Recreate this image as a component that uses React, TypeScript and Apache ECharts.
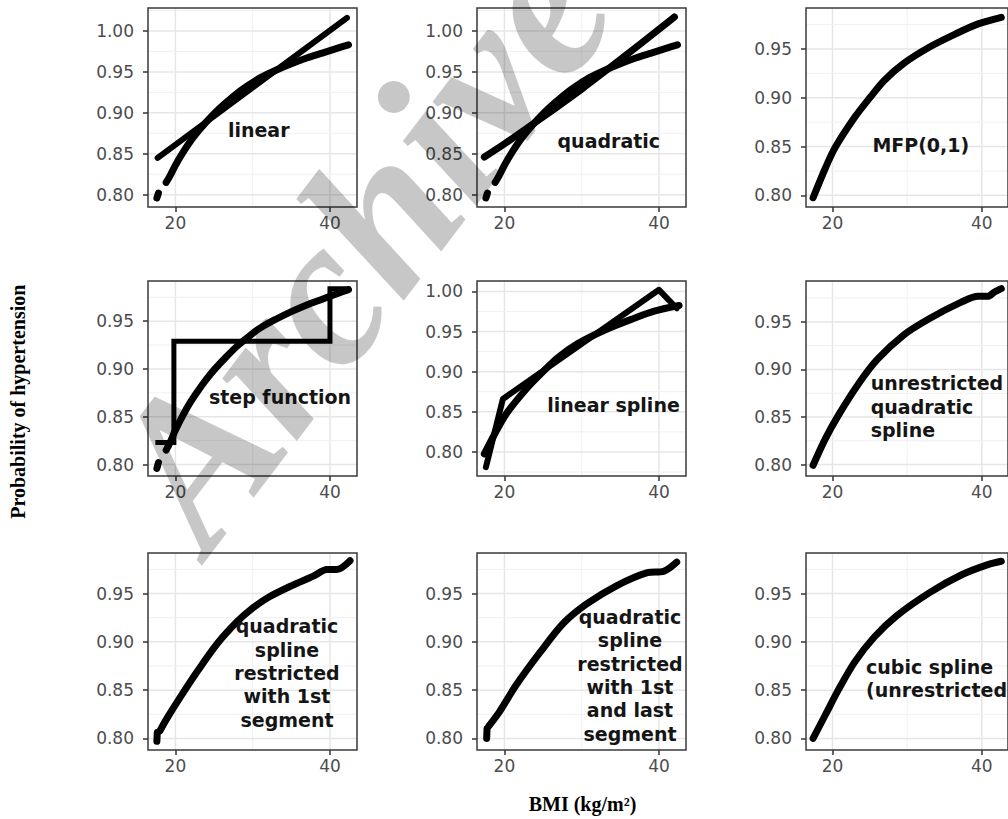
import { useEffect, useRef } from "react";
import * as echarts from "echarts";

// ---------- data (BMI on x, probability of hypertension on y) ----------
const xTickValues = [20, 40];
const yTickValues = [0.8, 0.85, 0.9, 0.95, 1.0];
const xMajorGrid = [20, 40];
const xMinorGrid = [30];
const yMajorGrid = [0.8, 0.85, 0.9, 0.95, 1.0];
const yMinorGrid = [0.775, 0.825, 0.875, 0.925, 0.975, 1.025];

// observed fitted points (true curve) used in panels 1, 2, 4
const blobBmi = [17.6, 17.8];
const blobProb = [0.796, 0.802];
const obsBmi = [18.8, 19.3, 20.0, 21.0, 22.0, 23.0, 24.0, 25.0, 26.5, 28.0, 29.5, 31.0, 33.0, 35.0, 37.0, 39.0, 41.0, 42.4];
const obsProb = [0.815, 0.823, 0.836, 0.852, 0.866, 0.878, 0.889, 0.899, 0.912, 0.924, 0.934, 0.943, 0.952, 0.960, 0.967, 0.973, 0.979, 0.983];

// linear model
const linBmi = [17.7, 42.2];
const linProb = [0.845, 1.016];
// quadratic model
const quadBmi = [17.4, 20, 25, 30, 35, 40, 42];
const quadProb = [0.846, 0.862, 0.895, 0.929, 0.965, 1.002, 1.017];
// MFP(0,1)
const mfpBmi = [17.4, 19.05, 20.35, 22.97, 25.1, 26.9, 29.5, 33.0, 36.5, 39.5, 42.6];
const mfpProb = [0.7975, 0.828, 0.849, 0.88, 0.901, 0.9175, 0.935, 0.952, 0.9655, 0.9757, 0.9825];
// step function
const stepBmi = [17.4, 19.8, 19.8, 40, 40, 42.5];
const stepProb = [0.823, 0.823, 0.929, 0.929, 0.984, 0.984];
// linear spline
const lsBmi = [17.6, 19.8, 40, 42.3];
const lsProb = [0.781, 0.866, 1.002, 0.979];
// unrestricted quadratic spline
const uqBmi = [17.4, 19.05, 20.8, 23.4, 26.0, 29.5, 33.0, 37.3, 39.5, 40.8, 41.7, 42.6];
const uqProb = [0.7993, 0.8273, 0.852, 0.884, 0.9105, 0.936, 0.9535, 0.971, 0.977, 0.977, 0.9815, 0.985];
// quadratic spline restricted with 1st segment
const rq1BlobBmi = [17.6, 17.65];
const rq1BlobProb = [0.797, 0.806];
const rq1Bmi = [18.0, 19.0, 20.65, 22.8, 25.4, 28.0, 30.0, 32.0, 35.0, 37.85, 39.6, 40.9, 42.6];
const rq1Prob = [0.808, 0.822, 0.843, 0.869, 0.898, 0.921, 0.935, 0.946, 0.958, 0.968, 0.975, 0.975, 0.984];
// quadratic spline restricted with 1st and last segment
const rq2BlobBmi = [17.7, 17.75];
const rq2BlobProb = [0.8, 0.81];
const rq2Bmi = [18.0, 19.35, 21.5, 24.6, 27.6, 30.6, 34.5, 38.5, 40.6, 42.3];
const rq2Prob = [0.813, 0.8275, 0.855, 0.889, 0.919, 0.939, 0.958, 0.9716, 0.973, 0.9825];
// cubic spline (unrestricted)
const csBmi = [17.4, 19.05, 20.8, 22.96, 25.6, 28.6, 33.0, 37.3, 40.8, 42.6];
const csProb = [0.8, 0.8245, 0.8505, 0.879, 0.905, 0.927, 0.951, 0.9695, 0.98, 0.9835];

const panelLabels = [
  "linear",
  "quadratic",
  "MFP(0,1)",
  "step function",
  "linear spline",
  "unrestricted\nquadratic\nspline",
  "quadratic\nspline\nrestricted\nwith 1st\nsegment",
  "quadratic\nspline\nrestricted\nwith 1st\nand last\nsegment",
  "cubic spline\n(unrestricted)",
];

const yMins = [0.785, 0.785, 0.788, 0.788, 0.77, 0.788, 0.788, 0.788, 0.788];
const yMaxs = [1.028, 1.028, 0.992, 0.992, 1.013, 0.993, 0.992, 0.992, 0.992];
const X_MIN = 16.45;
const X_MAX = 43.5;

const zip = (xs: number[], ys: number[]) => xs.map((x, i) => [x, ys[i]]);

// ---------- layout ----------
const colLeft = [148, 477, 806];
const rowTop = [8, 281, 553];
const rowHeight = [199, 195, 197];
const panelWidth = 209;

// label placement (pixels)
const labelPos = [
  { x: 258.7, y: 130, align: "center" },
  { x: 608.8, y: 141, align: "center" },
  { x: 920.8, y: 145, align: "center" },
  { x: 280, y: 397, align: "center" },
  { x: 613.5, y: 405, align: "center" },
  { x: 870.7, y: 406.7, align: "left" },
  { x: 287, y: 673, align: "center" },
  { x: 630, y: 675.3, align: "center" },
  { x: 866, y: 678.3, align: "left" },
];

type Kind = "dots" | "line" | "step";

export default function App() {
  const ref = useRef<HTMLDivElement>(null);
  useEffect(() => {
    if (!ref.current) return;
    const chart = echarts.init(ref.current, undefined, { renderer: "svg" });

    const curvesPerPanel: [number[][], Kind][][] = [
      [[zip(blobBmi, blobProb), "dots"], [zip(obsBmi, obsProb), "dots"], [zip(linBmi, linProb), "line"]],
      [[zip(blobBmi, blobProb), "dots"], [zip(obsBmi, obsProb), "dots"], [zip(quadBmi, quadProb), "dots"]],
      [[zip(mfpBmi, mfpProb), "dots"]],
      [[zip(blobBmi, blobProb), "dots"], [zip(obsBmi, obsProb), "dots"], [zip(stepBmi, stepProb), "step"]],
      [[zip(mfpBmi, mfpProb), "dots"], [zip(lsBmi, lsProb), "line"]],
      [[zip(uqBmi, uqProb), "dots"]],
      [[zip(rq1BlobBmi, rq1BlobProb), "dots"], [zip(rq1Bmi, rq1Prob), "dots"]],
      [[zip(rq2BlobBmi, rq2BlobProb), "dots"], [zip(rq2Bmi, rq2Prob), "dots"]],
      [[zip(csBmi, csProb), "dots"]],
    ];

    const grids: any[] = [];
    const xAxes: any[] = [];
    const yAxes: any[] = [];
    const series: any[] = [];
    const graphics: any[] = [];

    for (let i = 0; i < 9; i++) {
      const r = Math.floor(i / 3);
      const c = i % 3;
      const ymin = yMins[i];
      const ymax = yMaxs[i];
      grids.push({
        left: colLeft[c],
        top: rowTop[r],
        width: panelWidth,
        height: rowHeight[r],
        show: true,
        z: 10,
        backgroundColor: "transparent",
        borderColor: "#3a3a3a",
        borderWidth: 1.5,
        containLabel: false,
      });
      xAxes.push({
        type: "value",
        gridIndex: i,
        min: X_MIN,
        max: X_MAX,
        axisLine: { show: false },
        splitLine: { show: false },
        axisTick: {
          show: true,
          customValues: xTickValues,
          length: 5,
          lineStyle: { color: "#333", width: 1.5 },
        },
        axisLabel: {
          customValues: xTickValues,
          color: "#4d4d4d",
          fontSize: 17,
          fontFamily: "DejaVu Sans",
          margin: 7,
          formatter: (v: number) => String(Math.round(v)),
        },
      });
      const yt = yTickValues.filter((v) => v >= ymin && v <= ymax);
      yAxes.push({
        type: "value",
        gridIndex: i,
        min: ymin,
        max: ymax,
        axisLine: { show: false },
        splitLine: { show: false },
        axisTick: {
          show: true,
          customValues: yt,
          length: 5,
          lineStyle: { color: "#333", width: 1.5 },
        },
        axisLabel: {
          customValues: yt,
          color: "#4d4d4d",
          fontSize: 17,
          fontFamily: "DejaVu Sans",
          margin: 14,
          formatter: (v: number) => v.toFixed(2),
        },
      });

      const gridLine = (data: number[][], major: boolean) => ({
        type: "line",
        xAxisIndex: i,
        yAxisIndex: i,
        data,
        symbol: "none",
        silent: true,
        z: 1,
        lineStyle: { color: major ? "#e6e6e6" : "#f0f0f0", width: major ? 1.5 : 1 },
      });
      xMajorGrid.forEach((v) => series.push(gridLine([[v, ymin], [v, ymax]], true)));
      xMinorGrid.forEach((v) => series.push(gridLine([[v, ymin], [v, ymax]], false)));
      yMajorGrid
        .filter((v) => v > ymin && v < ymax)
        .forEach((v) => series.push(gridLine([[X_MIN, v], [X_MAX, v]], true)));
      yMinorGrid
        .filter((v) => v > ymin && v < ymax)
        .forEach((v) => series.push(gridLine([[X_MIN, v], [X_MAX, v]], false)));

      curvesPerPanel[i].forEach(([d, kind]) => {
        series.push({
          type: "line",
          xAxisIndex: i,
          yAxisIndex: i,
          data: d,
          symbol: "none",
          silent: true,
          z: 3,
          smooth: kind === "dots" ? 0.3 : false,
          lineStyle: {
            color: "#000",
            width: kind === "step" ? 5 : kind === "line" ? 6 : 7,
            cap: kind === "step" ? "butt" : "round",
            join: kind === "step" ? "miter" : "round",
          },
        });
      });

      const lp = labelPos[i];
      graphics.push({
        type: "text",
        x: lp.x,
        y: lp.y,
        z: 20,
        silent: true,
        style: {
          text: panelLabels[i],
          fill: "#151515",
          font: 'bold 19px "DejaVu Sans"',
          align: lp.align,
          verticalAlign: "middle",
          lineHeight: 23.4,
        },
      });
    }

    graphics.push({
      type: "text",
      x: 17.5,
      y: 401.7,
      rotation: Math.PI / 2,
      silent: true,
      style: {
        text: "Probability of hypertension",
        fill: "#000",
        font: 'bold 20px "Liberation Serif"',
        align: "center",
        verticalAlign: "middle",
      },
    });
    graphics.push({
      type: "text",
      x: 582.5,
      y: 804,
      silent: true,
      style: {
        text: "BMI (kg/m²)",
        fill: "#000",
        font: 'bold 20px "Liberation Serif"',
        align: "center",
        verticalAlign: "middle",
      },
    });
    graphics.push({
      type: "text",
      x: 236,
      y: 578,
      rotation: 0.92,
      z: 100,
      silent: true,
      style: {
        text: "Archive of SID",
        fill: "rgba(0,0,0,0.22)",
        font: 'italic bold 212px "Liberation Serif"',
        align: "left",
        verticalAlign: "bottom",
      },
    });

    chart.setOption({
      animation: false,
      backgroundColor: "#fff",
      grid: grids,
      xAxis: xAxes,
      yAxis: yAxes,
      series,
      graphic: graphics,
    });
    return () => chart.dispose();
  }, []);
  return (
    <div
      ref={ref}
      style={{ position: "fixed", left: 0, top: 0, width: 1008, height: 819 }}
    />
  );
}
